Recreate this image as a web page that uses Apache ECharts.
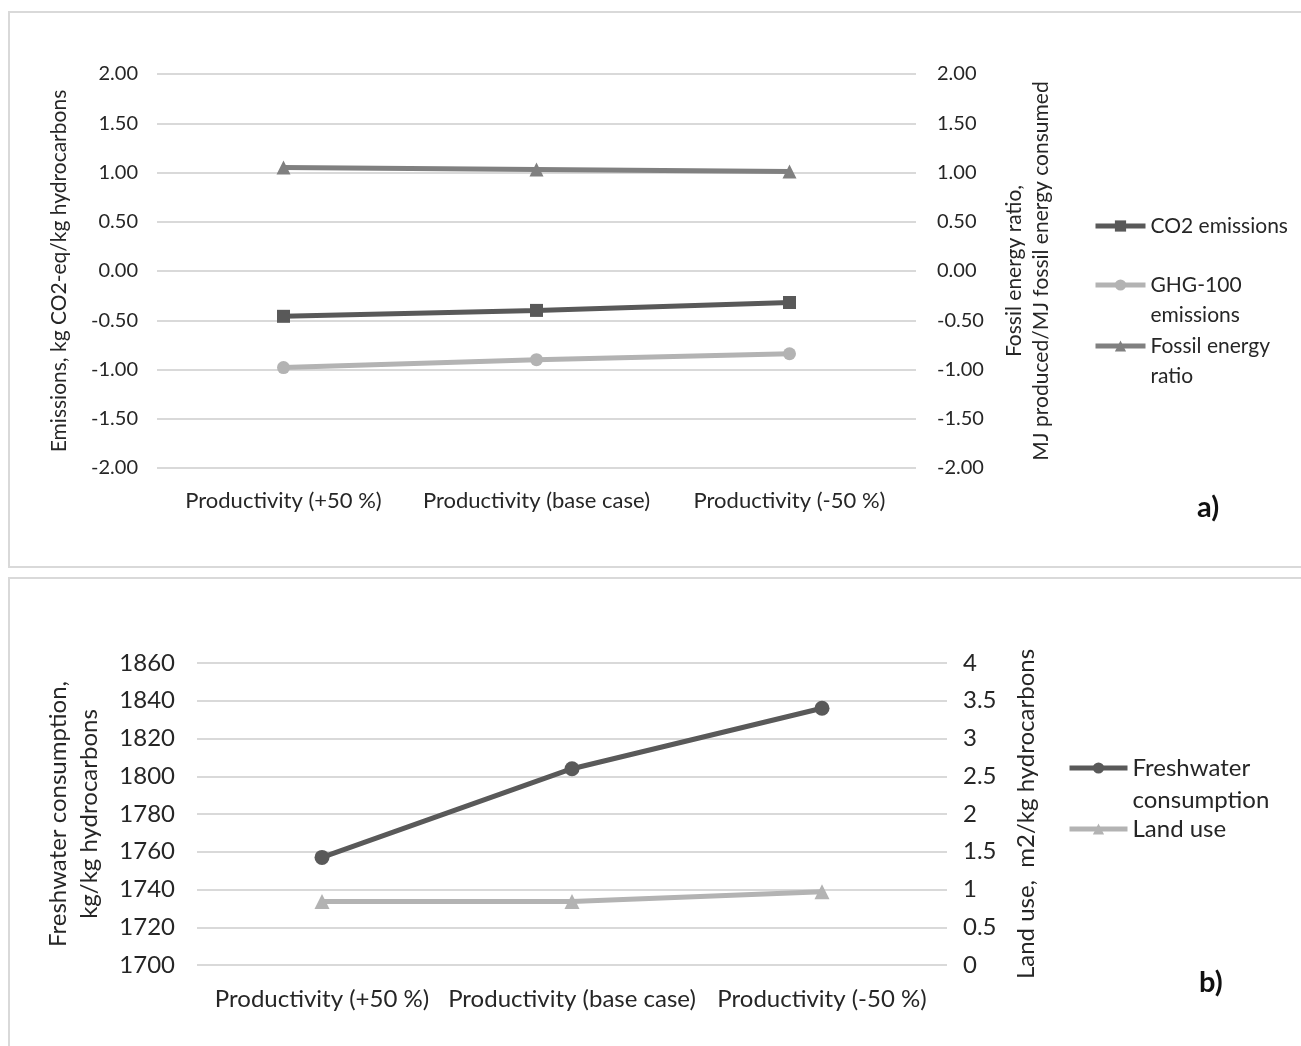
<!DOCTYPE html>
<html>
<head>
<meta charset="utf-8">
<script src="https://cdn.jsdelivr.net/npm/echarts@6/dist/echarts.min.js"></script>
<style>
  html, body { margin: 0; padding: 0; background: #fff; }
  #chart { width: 1301px; height: 1046px; }
</style>
</head>
<body>
<div id="chart"></div>
<script>
const categories = ['Productivity (+50 %)', 'Productivity (base case)', 'Productivity (-50 %)'];

// panel a)
const co2Emissions = [-0.46, -0.40, -0.32];
const ghg100Emissions = [-0.98, -0.90, -0.84];
const fossilEnergyRatio = [1.05, 1.03, 1.01];

// panel b)
const freshwater = [1757, 1804, 1836];
const landUse = [0.84, 0.84, 0.97];

const font = 'Lato';
const gridColor = '#d9d9d9';
const textColor = '#262626';

const chart = echarts.init(document.getElementById('chart'));

function yAxis(extra, fontSize, titleSize, lineHeight) {
  return Object.assign({
    type: 'value',
    axisLine: { show: false },
    axisTick: { show: false },
    splitLine: { lineStyle: { color: gridColor, width: 2 } },
    axisLabel: { fontFamily: font, fontSize: fontSize, color: textColor, margin: 20 },
    nameLocation: 'middle',
    nameRotate: 90,
    nameTextStyle: { fontFamily: font, fontSize: titleSize, color: textColor, lineHeight: lineHeight }
  }, extra);
}

function xAxis(gridIndex, fontSize) {
  return {
    gridIndex: gridIndex,
    type: 'category',
    data: categories,
    axisLine: { show: false },
    axisTick: { show: false },
    axisLabel: { fontFamily: font, fontSize: fontSize, color: textColor, margin: 22, interval: 0 }
  };
}

// one legend per entry so the wrapped labels keep the marker on their first line
function legendItem(name, label, left, top, iconWidth, fontSize, lineHeight) {
  return {
    data: [name],
    left: left,
    top: top,
    padding: 0,
    itemWidth: iconWidth,
    itemHeight: 14,
    itemGap: 0,
    selectedMode: false,
    lineStyle: { width: 5 },
    formatter: () => label,
    textStyle: { fontFamily: font, fontSize: fontSize, color: textColor, lineHeight: lineHeight }
  };
}

const option = {
  animation: false,
  backgroundColor: '#fff',
  graphic: [
    { type: 'rect', shape: { x: 9, y: 12, width: 1300, height: 555 }, style: { fill: 'none', stroke: '#d9d9d9', lineWidth: 2 } },
    { type: 'rect', shape: { x: 9, y: 578, width: 1300, height: 470 }, style: { fill: 'none', stroke: '#d9d9d9', lineWidth: 2 } },
    { type: 'text', left: 1197, top: 493, style: { text: 'a)', fontFamily: font, fontWeight: 'bold', fontSize: 29, fill: '#111' } },
    { type: 'text', left: 1199, top: 968, style: { text: 'b)', fontFamily: font, fontWeight: 'bold', fontSize: 29, fill: '#111' } }
  ],
  legend: [
    legendItem('CO2 emissions', 'CO2 emissions', 1093, 211, 50, 21, 30),
    legendItem('GHG-100 emissions', '\nGHG-100\nemissions', 1093, 240, 50, 21, 30),
    legendItem('Fossil energy ratio', '\nFossil energy\nratio', 1093, 301, 50, 21, 30),
    legendItem('Freshwater consumption', '\nFreshwater\nconsumption', 1067, 720, 58, 24, 32),
    legendItem('Land use', 'Land use', 1067, 813, 58, 24, 32)
  ],
  grid: [
    { left: 157, top: 74, width: 759, height: 394 },
    { left: 197, top: 663, width: 750, height: 302 }
  ],
  xAxis: [xAxis(0, 22), xAxis(1, 24)],
  yAxis: [
    yAxis({
      gridIndex: 0, min: -2, max: 2, interval: 0.5,
      axisLabel: { fontFamily: font, fontSize: 20, color: textColor, margin: 19, formatter: v => v.toFixed(2) },
      name: 'Emissions, kg CO2-eq/kg hydrocarbons', nameGap: 84
    }, 20, 21, 27),
    yAxis({
      gridIndex: 0, position: 'right', min: -2, max: 2, interval: 0.5,
      axisLabel: { fontFamily: font, fontSize: 20, color: textColor, margin: 21, formatter: v => v.toFixed(2) },
      name: 'Fossil energy ratio,\nMJ produced/MJ fossil energy consumed', nameGap: 85
    }, 20, 21, 27),
    yAxis({
      gridIndex: 1, min: 1700, max: 1860, interval: 20,
      axisLabel: { fontFamily: font, fontSize: 24, color: textColor, margin: 22, formatter: v => String(v) },
      name: 'Freshwater consumption,\nkg/kg hydrocarbons', nameGap: 92
    }, 24, 24, 31),
    yAxis({
      gridIndex: 1, position: 'right', min: 0, max: 4, interval: 0.5,
      splitLine: { show: false },
      axisLabel: { fontFamily: font, fontSize: 24, color: textColor, margin: 16 },
      name: 'Land use,  m2/kg hydrocarbons', nameGap: 66
    }, 24, 24, 27)
  ],
  series: [
    {
      name: 'CO2 emissions', type: 'line', xAxisIndex: 0, yAxisIndex: 0, data: co2Emissions,
      symbol: 'rect', symbolSize: 13, color: '#595959', lineStyle: { width: 5 }
    },
    {
      name: 'GHG-100 emissions', type: 'line', xAxisIndex: 0, yAxisIndex: 0, data: ghg100Emissions,
      symbol: 'circle', symbolSize: 13, color: '#b3b3b3', lineStyle: { width: 5 }
    },
    {
      name: 'Fossil energy ratio', type: 'line', xAxisIndex: 0, yAxisIndex: 1, data: fossilEnergyRatio,
      symbol: 'triangle', symbolSize: 14, color: '#808080', lineStyle: { width: 5 }
    },
    {
      name: 'Freshwater consumption', type: 'line', xAxisIndex: 1, yAxisIndex: 2, data: freshwater,
      symbol: 'circle', symbolSize: 15, color: '#595959', lineStyle: { width: 5 }
    },
    {
      name: 'Land use', type: 'line', xAxisIndex: 1, yAxisIndex: 3, data: landUse,
      symbol: 'triangle', symbolSize: 15, color: '#b3b3b3', lineStyle: { width: 5 }
    }
  ]
};

chart.setOption(option);
</script>
</body>
</html>
